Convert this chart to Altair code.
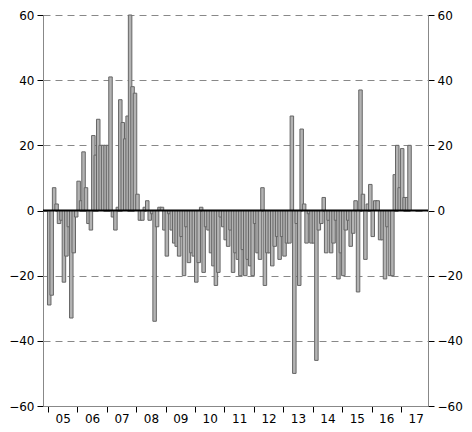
import altair as alt
import pandas as pd

# monthly values, Jan 2005 .. Apr 2017
values = [
    -29, -26, 7, 2, -4, -3, -22, -14, -5, -33, -13, -2,      # 2005
    9, 3, 18, 7, -4, -6, 23, 17, 28, 20, 20, 20,             # 2006
    20, 41, -2, -6, 1, 34, 27, 22, 29, 60, 38, 36,           # 2007
    5, -3, -3, 1, 3, -3, -1, -34, -5, 1, 1, -6,              # 2008
    -14, -1, -6, -10, -11, -14, -8, -20, -5, -16, -13, -14,  # 2009
    -22, -16, 1, -19, -5, -6, -13, -17, -23, -19, -2, -5,    # 2010
    -9, -11, -6, -19, -13, -15, -20, -12, -20, -15, -17, -20,  # 2011
    -4, -13, -15, 7, -23, -13, -13, -17, -11, -8, -15, -8,   # 2012
    -14, -10, -10, 29, -50, -4, -23, 25, 2, -10, -1, -10,    # 2013
    -10, -46, -6, -4, 4, -13, -3, -13, -10, -3, -21, -13,    # 2014
    -20, -6, -3, -11, -7, 3, -25, 37, 5, -15, 2, 8,          # 2015
    -8, 3, 3, -9, -9, -21, -5, -20, -20, 11, 20, 7,          # 2016
    19, 4, 4, 20,                                            # 2017
]
year_labels = ["05", "06", "07", "08", "09", "10", "11", "12", "13", "14", "15", "16", "17"]
y_ticks = [-60, -40, -20, 0, 20, 40, 60]

df = pd.DataFrame({"m": [i + 0.5 for i in range(len(values))], "v": values})
zero_df = pd.DataFrame({"z": [0]})

label_arr = "[" + ",".join("'" + s + "'" for s in year_labels) + "]"

x_scale = alt.Scale(domain=[0, 153], nice=False, zero=False)
y_scale = alt.Scale(domain=[-60, 60], nice=False)

x_axis = alt.Axis(
    values=list(range(0, 151, 6)),
    labelExpr="datum.value % 12 == 6 ? " + label_arr + "[floor(datum.value / 12)] : ''",
    tickOpacity={"condition": {"test": "datum.value % 12 == 0", "value": 1}, "value": 0},
    title=None, grid=False, tickSize=6, tickColor="black", domainColor="#888888",
    labelPadding=1,
)
left_axis = alt.Axis(
    values=y_ticks, title=None, grid=True, gridDash=[7, 5], gridColor="#888888",
    tickSize=6, tickColor="black", domainColor="#888888", labelPadding=3,
)
right_axis = alt.Axis(
    values=y_ticks, title=None, grid=False, orient="right",
    tickSize=6, tickColor="black", domainColor="#888888", labelPadding=3,
)

bars = alt.Chart(df).mark_bar(
    width=3.5, fill="#b3b3b3", stroke="#666666", strokeWidth=1
).encode(
    x=alt.X("m:Q", scale=x_scale, axis=x_axis),
    y=alt.Y("v:Q", scale=y_scale, axis=left_axis),
)

zero_rule = alt.Chart(zero_df).mark_rule(color="black", strokeWidth=2).encode(
    y=alt.Y("z:Q", scale=y_scale, axis=right_axis),
)

chart = alt.layer(bars, zero_rule).resolve_axis(y="independent").properties(
    width=456, height=416,
    autosize=alt.AutoSizeParams(type="fit", contains="padding"),
    padding={"left": 0, "top": 1, "right": 1, "bottom": 0},
).configure_view(stroke=None).configure_axis(
    labelFont="DejaVu Sans", labelFontSize=12, labelColor="black",
)

chart.save("out.html", embed_options={"renderer": "svg", "actions": False})
